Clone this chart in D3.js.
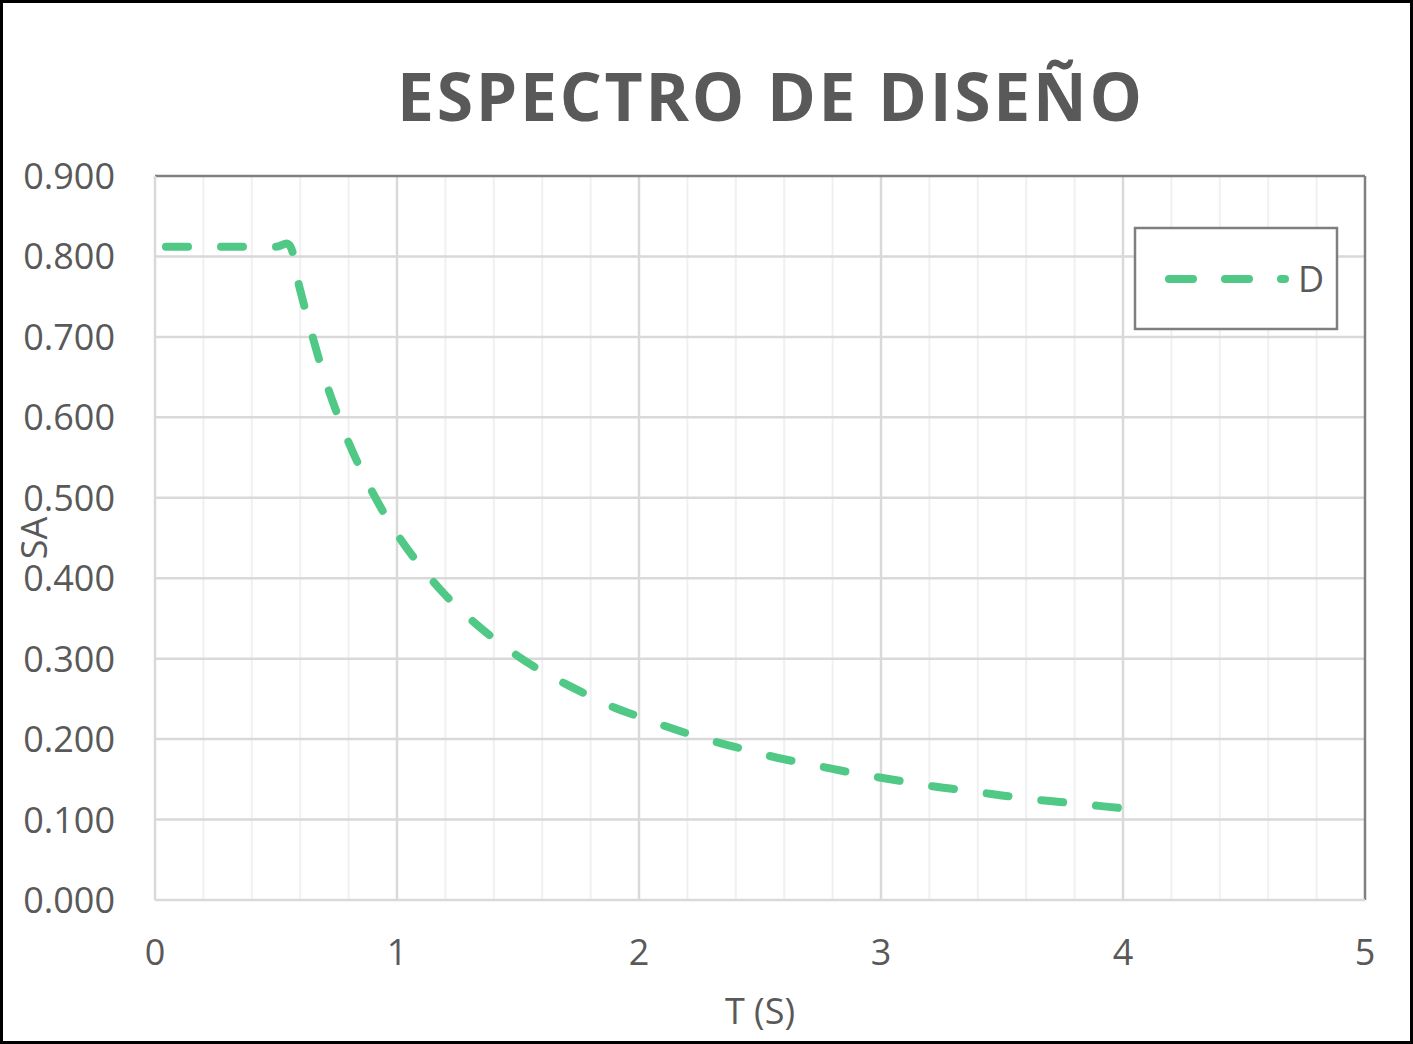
<!DOCTYPE html>
<html>
<head>
<meta charset="utf-8">
<script src="https://cdn.jsdelivr.net/npm/d3@7"></script>
<style>
  html, body { margin: 0; padding: 0; background: #fff; }
  svg { display: block; }
</style>
</head>
<body>
<svg id="chart" width="1413" height="1044"></svg>
<script>
// ---- data ----
const periods = [0, 0.1, 0.2, 0.3, 0.4, 0.5, 0.56, 0.6, 0.7, 0.8, 0.9, 1.0, 1.1, 1.2, 1.3, 1.4, 1.5, 1.6, 1.7, 1.8, 1.9, 2.0,
  2.1, 2.2, 2.3, 2.4, 2.5, 2.6, 2.7, 2.8, 2.9, 3.0, 3.1, 3.2, 3.3, 3.4, 3.5, 3.6, 3.7, 3.8, 3.9, 4.0];
const saValues = [0.812, 0.812, 0.812, 0.812, 0.812, 0.812, 0.812, 0.758, 0.650, 0.569, 0.506, 0.455, 0.414, 0.379, 0.350, 0.325, 0.303, 0.284, 0.268, 0.253, 0.239, 0.228,
  0.217, 0.207, 0.198, 0.190, 0.182, 0.175, 0.169, 0.163, 0.157, 0.152, 0.147, 0.142, 0.138, 0.134, 0.130, 0.126, 0.123, 0.120, 0.117, 0.114];
const xTicks = [0, 1, 2, 3, 4, 5];
const xMinorTicks = [0.2, 0.4, 0.6, 0.8, 1.2, 1.4, 1.6, 1.8, 2.2, 2.4, 2.6, 2.8, 3.2, 3.4, 3.6, 3.8, 4.2, 4.4, 4.6, 4.8];
const yTicks = [0, 0.1, 0.2, 0.3, 0.4, 0.5, 0.6, 0.7, 0.8, 0.9];
const seriesName = "D";
const chartTitle = "ESPECTRO DE DISEÑO";
const xTitle = "T (S)";
const yTitle = "SA";

// ---- layout ----
const W = 1413, H = 1044;
const plot = { left: 155, right: 1365, top: 176, bottom: 900 };
const font = "'Open Sans', sans-serif";
const textColor = "#595959";
const lineColor = "#50c987";

const svg = d3.select("#chart");
svg.append("rect").attr("x", 0).attr("y", 0).attr("width", W).attr("height", H).attr("fill", "#fff");

const x = d3.scaleLinear().domain([0, 5]).range([plot.left, plot.right]);
const y = d3.scaleLinear().domain([0, 0.9]).range([plot.bottom, plot.top]);

// minor vertical gridlines
svg.append("g").selectAll("line").data(xMinorTicks).join("line")
  .attr("x1", d => x(d)).attr("x2", d => x(d))
  .attr("y1", plot.top).attr("y2", plot.bottom)
  .attr("stroke", "#f0f0f0").attr("stroke-width", 2);

// major vertical gridlines
svg.append("g").selectAll("line").data(xTicks.slice(1, -1)).join("line")
  .attr("x1", d => x(d)).attr("x2", d => x(d))
  .attr("y1", plot.top).attr("y2", plot.bottom)
  .attr("stroke", "#d9d9d9").attr("stroke-width", 2.5);

// horizontal gridlines
svg.append("g").selectAll("line").data(yTicks.slice(1, -1)).join("line")
  .attr("x1", plot.left).attr("x2", plot.right)
  .attr("y1", d => y(d)).attr("y2", d => y(d))
  .attr("stroke", "#d9d9d9").attr("stroke-width", 2.5);

// plot border (top/right dark)
svg.append("line").attr("x1", plot.left).attr("x2", plot.right).attr("y1", plot.top).attr("y2", plot.top)
  .attr("stroke", "#808080").attr("stroke-width", 2.5);
svg.append("line").attr("x1", plot.right).attr("x2", plot.right).attr("y1", plot.top).attr("y2", plot.bottom)
  .attr("stroke", "#808080").attr("stroke-width", 2.5);
// axes lines (light)
svg.append("line").attr("x1", plot.left).attr("x2", plot.left).attr("y1", plot.top).attr("y2", plot.bottom)
  .attr("stroke", "#d9d9d9").attr("stroke-width", 2.5);
svg.append("line").attr("x1", plot.left).attr("x2", plot.right).attr("y1", plot.bottom).attr("y2", plot.bottom)
  .attr("stroke", "#d9d9d9").attr("stroke-width", 2.5);

// y tick labels
const fmt = d3.format(".3f");
svg.append("g").selectAll("text").data(yTicks).join("text")
  .attr("x", 115).attr("y", d => y(d)).attr("dy", "0.36em")
  .attr("text-anchor", "end")
  .attr("font-family", font).attr("font-size", 36).attr("fill", textColor)
  .text(d => fmt(d));

// x tick labels
svg.append("g").selectAll("text").data(xTicks).join("text")
  .attr("x", d => x(d)).attr("y", 965)
  .attr("text-anchor", "middle")
  .attr("font-family", font).attr("font-size", 36).attr("fill", textColor)
  .text(d => d);

// axis titles
svg.append("text").attr("x", (plot.left + plot.right) / 2).attr("y", 1024)
  .attr("text-anchor", "middle").attr("font-family", font).attr("font-size", 36).attr("fill", textColor)
  .text(xTitle);
svg.append("text")
  .attr("transform", `translate(47, ${(plot.top + plot.bottom) / 2}) rotate(-90)`)
  .attr("text-anchor", "middle").attr("font-family", font).attr("font-size", 36).attr("fill", textColor)
  .text(yTitle);

// title
svg.append("text").attr("x", 397).attr("y", 121)
  .attr("textLength", 745).attr("lengthAdjust", "spacing")
  .attr("font-family", font).attr("font-weight", "bold").attr("font-size", 66).attr("fill", textColor)
  .text(chartTitle);

// series line
const data = periods.map((p, i) => ({ t: p, v: saValues[i] }));
const line = d3.line().x(d => x(d.t)).y(d => y(d.v)).curve(d3.curveCatmullRom.alpha(0));
svg.append("path").datum(data)
  .attr("d", line)
  .attr("fill", "none").attr("stroke", lineColor).attr("stroke-width", 8)
  .attr("stroke-linecap", "round").attr("stroke-dasharray", "22 33").attr("stroke-dashoffset", 44);

// legend
const lg = svg.append("g");
lg.append("rect").attr("x", 1135).attr("y", 228).attr("width", 202).attr("height", 101)
  .attr("fill", "#fff").attr("stroke", "#7f7f7f").attr("stroke-width", 2.5);
lg.append("line").attr("x1", 1169).attr("x2", 1285).attr("y1", 279).attr("y2", 279)
  .attr("stroke", lineColor).attr("stroke-width", 8)
  .attr("stroke-linecap", "round").attr("stroke-dasharray", "24 32");
lg.append("text").attr("x", 1298).attr("y", 279).attr("dy", "0.36em")
  .attr("font-family", font).attr("font-size", 36).attr("fill", textColor)
  .text(seriesName);

// outer border
svg.append("rect").attr("x", 1.5).attr("y", 1.5).attr("width", W - 3).attr("height", H - 3)
  .attr("fill", "none").attr("stroke", "#000").attr("stroke-width", 3);
</script>
</body>
</html>
